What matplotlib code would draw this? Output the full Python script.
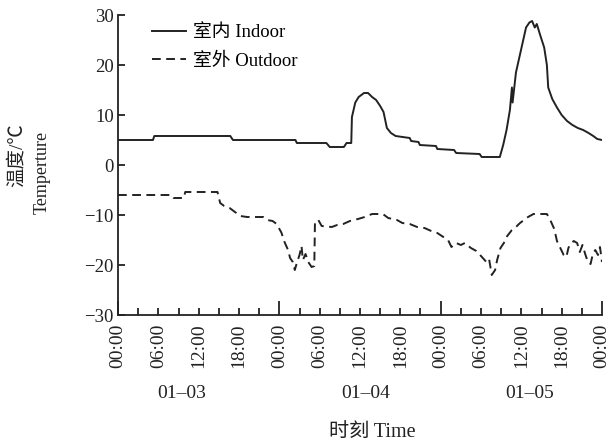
# 室内外温度变化曲线 (01-03 ~ 01-05)
import numpy as np
import matplotlib.pyplot as plt
from matplotlib.ticker import MultipleLocator, FuncFormatter

plt.rcParams['font.family'] = ['Liberation Serif', 'Noto Sans CJK SC']
plt.rcParams['axes.unicode_minus'] = True

# 时间 (从 01-03 00:00 起算的小时) 与温度读数
indoor_h = [0, 5.2, 5.4, 16.7, 17.1, 26.4, 26.6, 31.0, 31.5, 33.6, 34.0, 34.7, 34.8,
            35.3, 35.8, 36.6, 37.2, 37.8, 38.4, 39.0, 39.5, 40.0, 40.6, 41.3, 43.4,
            43.6, 44.7, 44.9, 47.3, 47.5, 50.0, 50.3, 53.8, 54.1, 56.8, 57.3, 57.8,
            58.3, 58.6, 58.7, 59.2, 59.7, 60.2, 60.7, 61.2, 61.6, 62.0, 62.3, 62.8,
            63.4, 63.8, 64.0, 64.6, 65.3, 66.0, 66.8, 67.6, 68.4, 69.2, 70.0, 70.7,
            71.3, 72]
indoor_t = [5.0, 5.0, 5.8, 5.8, 5.0, 5.0, 4.4, 4.4, 3.6, 3.6, 4.4, 4.4, 9.6,
            12.5, 13.6, 14.4, 14.4, 13.6, 13.0, 11.8, 10.6, 7.4, 6.4, 5.8, 5.4,
            4.8, 4.6, 4.0, 3.8, 3.2, 3.0, 2.4, 2.2, 1.6, 1.6, 4.0, 7.0,
            11.0, 15.5, 12.5, 18.5, 21.5, 24.5, 27.5, 28.5, 28.8, 27.5, 28.2, 26.0,
            23.5, 20.0, 15.5, 13.2, 11.5, 10.0, 8.8, 8.0, 7.4, 7.0, 6.4, 5.8,
            5.2, 5.0]

outdoor_h = [0, 8.0, 8.3, 9.8, 10.0, 14.8, 15.2, 15.8, 16.6, 17.4, 18.2, 19.2, 21.6,
             22.2, 23.0, 23.6, 24.3, 24.8, 25.3, 25.6, 26.0, 26.3, 26.6, 27.0, 27.3,
             27.5, 27.9, 28.3, 28.8, 29.2, 29.3, 29.8, 30.3, 31.8, 32.6, 33.5, 34.5,
             35.7, 36.7, 37.8, 39.4, 40.2, 41.5, 42.3, 43.4, 44.5, 45.6, 46.6, 47.5,
             48.4, 49.1, 49.6, 50.3, 51.0, 51.6, 52.5, 53.3, 54.0, 54.8, 55.2, 55.6,
             56.1, 56.4, 56.9, 57.4, 57.9, 58.6, 59.2, 59.8, 60.4, 61.0, 61.8, 63.8,
             64.3, 64.9, 65.3, 65.8, 66.3, 66.7, 67.0, 67.3, 67.8, 68.3, 68.7, 69.1,
             69.5, 69.9, 70.3, 70.6, 71.0, 71.4, 71.7, 72]
outdoor_t = [-6.0, -6.0, -6.6, -6.6, -5.4, -5.4, -7.6, -8.2, -8.6, -9.4, -10.2, -10.4, -10.4,
             -11.0, -11.2, -11.8, -13.5, -15.5, -17.0, -18.6, -19.4, -21.0, -19.6, -18.0, -16.2,
             -19.0, -17.8, -19.4, -20.4, -20.2, -11.4, -11.0, -12.2, -12.4, -12.0, -11.8, -11.2,
             -10.8, -10.4, -9.8, -9.8, -10.6, -11.0, -11.6, -11.8, -12.4, -12.6, -13.2, -13.6,
             -14.4, -15.0, -16.4, -15.6, -16.0, -15.6, -16.6, -17.2, -18.2, -19.4, -18.8, -22.0,
             -21.0, -19.0, -16.6, -15.6, -14.2, -13.0, -12.4, -11.6, -11.0, -10.4, -9.8, -9.8,
             -11.0, -12.8, -15.2, -16.6, -18.0, -18.4, -16.6, -15.8, -15.2, -15.6, -17.4, -16.0,
             -17.8, -19.4, -19.8, -18.0, -17.0, -18.0, -16.4, -19.4]

day_labels = ["01–03", "01–04", "01–05"]
day_label_pos = [9.5, 36.8, 61.3]

W, H = 609, 446
fig = plt.figure(figsize=(W / 100, H / 100), dpi=100)
ax = fig.add_axes([118 / W, 1 - 315 / H, (602 - 118) / W, 300 / H])

c = "#222222"
ax.plot(indoor_h, indoor_t, color=c, lw=1.4, label="室内 Indoor")
ax.plot(outdoor_h, outdoor_t, color=c, lw=1.4, dashes=(4.5, 2.8), label="室外 Outdoor")

ax.set_xlim(0, 72)
ax.set_ylim(-30, 30)
ax.set_yticks([-30, -20, -10, 0, 10, 20, 30])
ax.set_yticklabels(["−30", "−20", "−10", "0", "10", "20", "30"])

ax.xaxis.set_major_locator(MultipleLocator(24))
ax.xaxis.set_minor_locator(MultipleLocator(3))
ax.xaxis.set_major_formatter(FuncFormatter(lambda v, p: "00:00"))
ax.xaxis.set_minor_formatter(FuncFormatter(
    lambda v, p: "%02d:00" % (int(round(v)) % 24) if int(round(v)) % 6 == 0 else ""))

for s in ["top", "right"]:
    ax.spines[s].set_visible(False)
for s in ["left", "bottom"]:
    ax.spines[s].set_linewidth(1.3)
    ax.spines[s].set_color(c)

ax.tick_params(axis="y", direction="in", length=5, width=1.3, pad=3, labelsize=13.5, colors=c)
ax.tick_params(axis="x", which="major", direction="in", length=10, width=1.3, pad=6,
               labelsize=14, labelrotation=90, colors=c)
ax.tick_params(axis="x", which="minor", direction="in", length=5, width=1.3, pad=6,
               labelsize=14, labelrotation=90, colors=c)

for lab, pos in zip(day_labels, day_label_pos):
    ax.text(pos, -0.26, lab, transform=ax.get_xaxis_transform(), ha="center", va="center",
            fontsize=14, color=c)

fig.text(372 / W, 1 - 432 / H, "时刻 Time", ha="center", va="center", fontsize=14.5, color=c)
fig.text(17 / W, 1 - 155 / H, "温度/℃", rotation=90, ha="center", va="center",
         fontsize=14, color=c)
fig.text(42 / W, 1 - 172 / H, "Temperture", rotation=90, ha="center", va="center",
         fontsize=13, color=c)

ax.legend(loc="upper left", bbox_to_anchor=(152 / W, 1 - 24 / H),
          bbox_transform=fig.transFigure, frameon=False, fontsize=13.5,
          handlelength=1.8, handletextpad=0.4, labelspacing=0.6, borderaxespad=0,
          borderpad=0)

fig.savefig("out.png", dpi=100)
